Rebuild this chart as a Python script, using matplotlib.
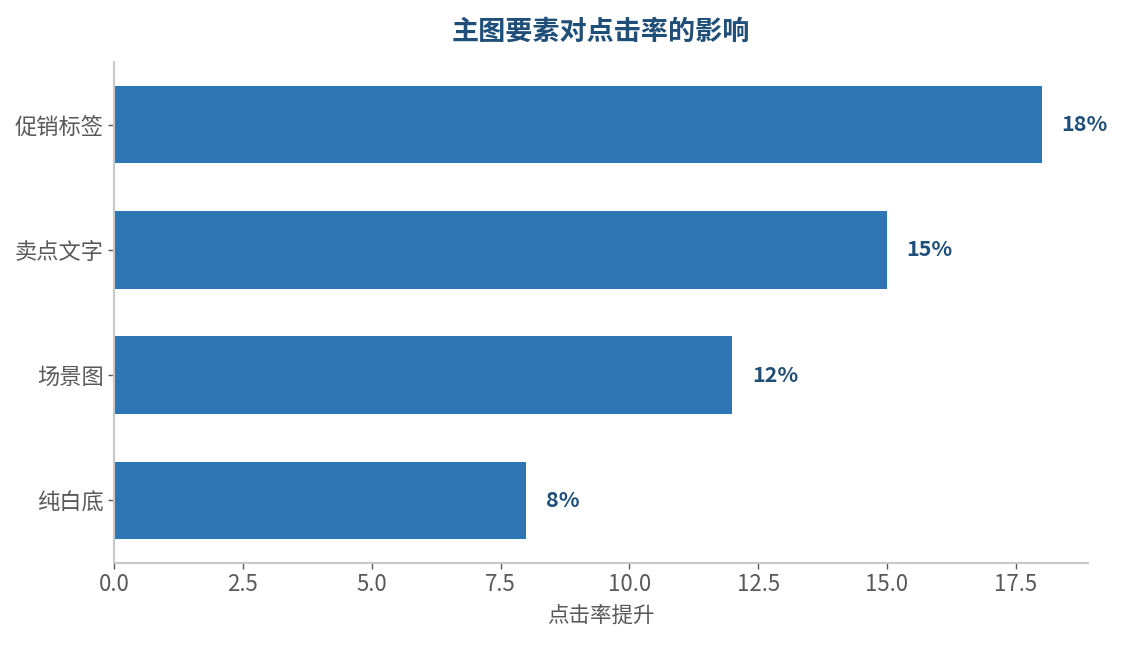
import matplotlib
matplotlib.use("Agg")
import matplotlib.pyplot as plt

plt.rcParams['font.family'] = ['Noto Sans CJK SC', 'DejaVu Sans']

categories = ['纯白底', '场景图', '卖点文字', '促销标签']
values = [8, 12, 15, 18]
labels = ['8%', '12%', '15%', '18%']

bar_color = '#2E75B6'
dark_blue = '#1F4E79'
tick_color = '#595959'
spine_color = '#C8C8C8'

fig = plt.figure(figsize=(11.22, 6.45), dpi=100)
ax = fig.add_axes([0.1016, 0.1271, 0.8681, 0.7768])

ypos = list(range(len(categories)))
ax.barh(ypos, values, height=0.62, color=bar_color)

for y, v, lab in zip(ypos, values, labels):
    ax.text(v + 0.38, y, lab, va='center', ha='left', fontsize=15.5,
            fontweight='bold', color=dark_blue)

ax.set_yticks(ypos)
ax.set_yticklabels(categories)
ax.set_ylim(-0.5, 3.5)
ax.set_xlim(0, 18.9)
ax.set_xticks([0, 2.5, 5, 7.5, 10, 12.5, 15, 17.5])
ax.set_xticklabels(['0.0', '2.5', '5.0', '7.5', '10.0', '12.5', '15.0', '17.5'])

ax.set_xlabel('点击率提升', fontsize=15.5, color=tick_color, labelpad=6)
ax.set_title('主图要素对点击率的影响', fontsize=19.5, fontweight='bold',
             color=dark_blue, pad=16)

for s in ['top', 'right']:
    ax.spines[s].set_visible(False)
for s in ['left', 'bottom']:
    ax.spines[s].set_color(spine_color)
    ax.spines[s].set_linewidth(1.5)

ax.tick_params(axis='both', colors=tick_color, labelsize=16, length=4, width=1)

fig.savefig('out.png', dpi=100, facecolor='white')
